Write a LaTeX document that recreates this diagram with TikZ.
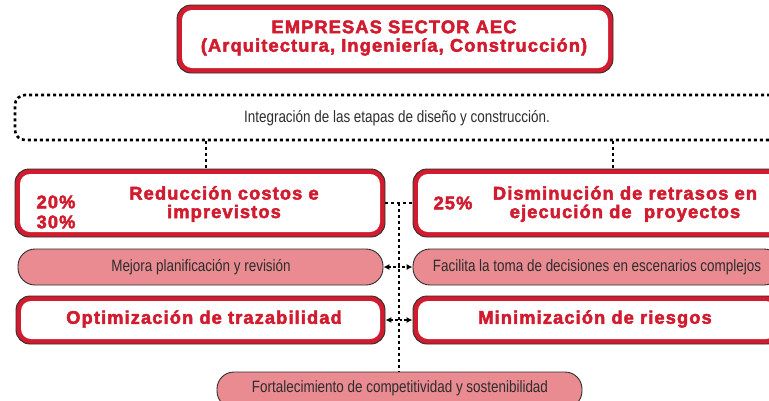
\documentclass[tikz,border=0pt]{standalone}
\usepackage{fontspec}
\setmainfont{Liberation Sans}
\newfontfamily\narrowf[FakeStretch=0.82]{Liberation Sans}
\newfontfamily\boldf[LetterSpace=6,FakeBold=2.6]{Liberation Sans}
\usetikzlibrary{arrows.meta}
\definecolor{cr}{RGB}{209,27,46}
\definecolor{pk}{RGB}{233,139,145}
\definecolor{ol}{RGB}{45,45,45}
\begin{document}
\begin{tikzpicture}[x=1pt,y=-1pt,
  redbox/.style={rounded corners=14pt, fill=cr, draw=ol, line width=0.9pt, inner sep=0pt,
    path picture={\fill[white, rounded corners=10pt] ([shift={(5pt,5pt)}]path picture bounding box.south west) rectangle ([shift={(-5pt,-5pt)}]path picture bounding box.north east);}},
  pinkbox/.style={rounded corners=17pt, fill=pk, draw=ol, line width=0.9pt, inner sep=0pt},
  dotbox/.style={draw=black, line width=2.6pt, dash pattern=on 3pt off 3pt, rounded corners=10pt, inner sep=0pt},
  redtxt/.style={text=cr, font=\boldf\bfseries\fontsize{18.3}{18.5}\selectfont, align=center, inner sep=0pt},
  graytxt/.style={text=ol, font=\narrowf\fontsize{16.4}{18}\selectfont, inner sep=0pt},
  dotline/.style={draw=black, line width=2.6pt, dash pattern=on 3pt off 3pt},
  vline/.style={draw=black, line width=2pt, dash pattern=on 3pt off 3pt},
  arr/.style={draw=black, line width=1.3pt, dash pattern=on 2.5pt off 2pt, {Latex[length=6pt,width=6pt]}-{Latex[length=6pt,width=6pt]}}
]
\useasboundingbox (0,0) rectangle (769,400);

% top box
\node[redbox, minimum width=436pt, minimum height=68pt] (top) at (395,39) {};
\node[redtxt] (toptxt) at (394,38) {EMPRESAS SECTOR AEC\\(Arquitectura, Ingeniería, Construcción)};

% dotted box
\node[dotbox, minimum width=765pt, minimum height=45pt] (dot) at (397.5,117.5) {};
\node[graytxt] (dottxt) at (397,118) {Integración de las etapas de diseño y construcción.};

% red boxes
\node[redbox, minimum width=370pt, minimum height=68pt] (L1) at (200,203) {};
\node[redbox, minimum width=392pt, minimum height=68pt] (R1) at (609,203) {};
\node[redtxt] (L1txt) at (224,204) {Reducción costos e\\imprevistos};
\node[redtxt, align=left, font=\boldf\bfseries\fontsize{18.3}{20}\selectfont] (pct1) at (56,212) {20\%\\30\%};
\node[redtxt] (pct2) at (453,203) {25\%};
\node[redtxt] (R1txt) at (625,204) {Disminución de retrasos en\\ejecución de\ \ proyectos};

% pink boxes
\node[pinkbox, minimum width=365pt, minimum height=36pt] (P1) at (200.5,267) {};
\node[graytxt] (P1txt) at (201,267) {Mejora planificación y revisión};
\node[pinkbox, minimum width=368pt, minimum height=36pt] (P2) at (597,267) {};
\node[graytxt] (P2txt) at (597,267) {Facilita la toma de decisiones en escenarios complejos};

% optim / minim
\node[redbox, minimum width=369pt, minimum height=48pt] (O1) at (200.5,320) {};
\node[redtxt] (O1txt) at (204,319) {Optimización de trazabilidad};
\node[redbox, minimum width=368pt, minimum height=48pt] (O2) at (597,320) {};
\node[redtxt] (O2txt) at (595,319) {Minimización de riesgos};

% bottom pink
\node[pinkbox, minimum width=365pt, minimum height=36pt] (B) at (399.5,390) {};
\node[graytxt] (Btxt) at (400,388) {Fortalecimiento de competitividad y sostenibilidad};

% connectors
\coordinate (xa) at (206,0);
\coordinate (xb) at (613,0);
\draw[dotline] (dot.south -| xa) -- (L1.north -| xa);
\draw[dotline] (dot.south -| xb) -- (R1.north -| xb);
\draw[dotline] (L1.east) -- (R1.west);
\coordinate (m) at (399,203);
\draw[vline] (m) -- (m |- B.north);
\draw[arr] (P1.east) -- (P2.west);
\draw[arr] (O1.east) -- (O2.west);
\end{tikzpicture}
\end{document}
